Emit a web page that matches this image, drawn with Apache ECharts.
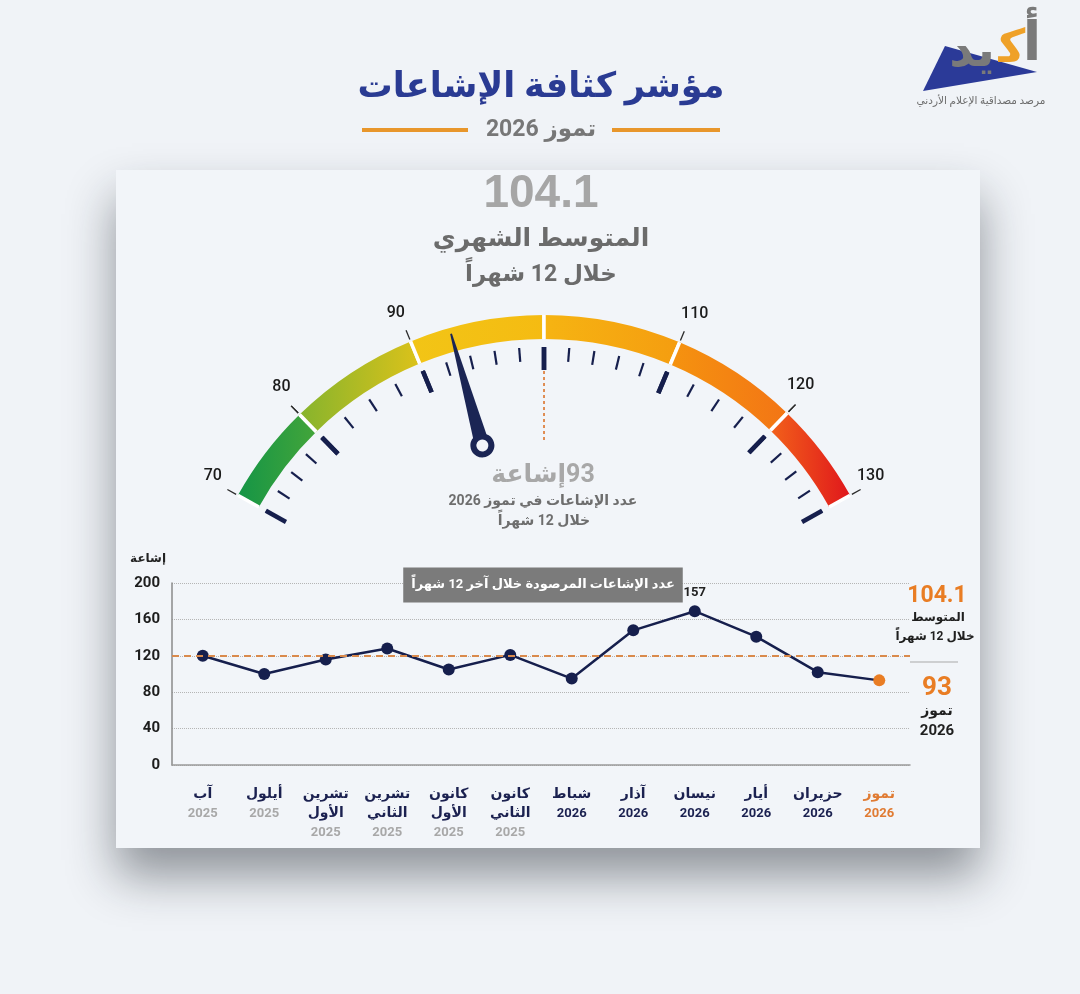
<!DOCTYPE html>
<html><head><meta charset="utf-8">
<script src="https://cdn.jsdelivr.net/npm/echarts@6/dist/echarts.min.js"></script>
<style>html,body{margin:0;padding:0;background:#f0f3f7;}#c{width:1080px;height:994px;direction:rtl;}</style>
</head><body><div id="c"></div>
<script>
// ---------- data ----------
const months = ['آب','أيلول','تشرين\nالأول','تشرين\nالثاني','كانون\nالأول','كانون\nالثاني','شباط','آذار','نيسان','أيار','حزيران','تموز'];
const years = ['2025','2025','2025','2025','2025','2025','2026','2026','2026','2026','2026','2026'];
const rumorCounts = [120,100,116,128,105,121,95,148,169,141,102,93];
const pointLabels = ['','','','','','','','','157','','',''];
const monthlyAverage = '104.1';
const currentCount = 93;
const currentMonthName = 'تموز';
const currentYear = '2026';
const gaugeStops = [70,80,90,100,110,120,130];
const gaugeLabelValues = [70,80,90,110,120,130];
const yMin = 0, yMax = 200, yInterval = 40;

// ---------- style / layout ----------
const AR = "Roboto, 'DejaVu Sans', sans-serif";
const NAVY = '#161f4d';
const ORANGE = '#e97d24';
const RLM = '\u200F';
const GC = [544, 665], GR = 350, ARC_W = 24;
const stopAngles = [151, 134.3, 112.4, 90, 67.2, 46, 29];
const minorSplits = [4,4,5,5,4,4];
const segColors = [['#159546','#43a53a'],['#86b42d','#dcc21a'],['#f2c516','#f5bb12'],['#f6b412','#f59d10'],['#f5930f','#f37515'],['#f2611a','#e0171c']];

function seg(i, extra) {
  return Object.assign({
    type:'gauge', center:GC, radius:GR, min:gaugeStops[i], max:gaugeStops[i+1],
    startAngle:stopAngles[i], endAngle:stopAngles[i+1], splitNumber:1, silent:true, animation:false,
    pointer:{show:false}, anchor:{show:false}, title:{show:false}, detail:{show:false}, progress:{show:false},
    axisLine:{show:false, lineStyle:{width:0}}, splitLine:{show:false}, axisTick:{show:false}, axisLabel:{show:false},
    data:[{value:gaugeStops[i]}]
  }, extra);
}

const series = [];
// coloured arc segments with white separators
for (let i = 0; i < 6; i++) {
  series.push(seg(i, {
    axisLine:{show:true, lineStyle:{width:ARC_W, color:[[1,{type:'linear',x:0,y:0,x2:1,y2:0,colorStops:[{offset:0,color:segColors[i][0]},{offset:1,color:segColors[i][1]}]}]]}},
    splitLine:{show:true, distance:-ARC_W, length:ARC_W, lineStyle:{color:'#ffffff', width:3.5}}
  }));
}
// dashed line at 100
series.push({
  type:'gauge', center:GC, radius:294, min:0, max:1, startAngle:stopAngles[3], endAngle:stopAngles[3]-0.01,
  splitNumber:1, silent:true, animation:false, pointer:{show:false}, anchor:{show:false}, title:{show:false}, detail:{show:false},
  axisLine:{show:false, lineStyle:{width:0}}, axisTick:{show:false}, axisLabel:{show:false},
  splitLine:{show:true, distance:0, length:70, lineStyle:{color:'#df8a4e', width:1.6, type:[3,3]}},
  data:[{value:0}]
});
// ticks
for (let i = 0; i < 6; i++) {
  series.push(seg(i, {
    radius:318,
    splitLine:{show:true, distance:0, length:23, lineStyle:{color:NAVY, width:4.5}},
    axisTick:{show:true, splitNumber:minorSplits[i], distance:0, length:14, lineStyle:{color:NAVY, width:2.2}}
  }));
}
// leaders + labels
const leaderSegs = [0,1,4,5];
const labelOwner = {};
leaderSegs.forEach(i => {
  [gaugeStops[i], gaugeStops[i+1]].forEach(v => {
    if (gaugeLabelValues.includes(v) && !(v in labelOwner)) labelOwner[v] = i;
  });
});
leaderSegs.forEach(i => {
  series.push(seg(i, {
    radius:362,
    splitLine:{show:true, distance:0, length:10, lineStyle:{color:'#2a2a2a', width:1.3}},
    axisLabel:{show:true, distance:-37, color:'#1b1b1b', fontSize:16, fontFamily:AR, fontWeight:500,
      formatter: v => (labelOwner[v] === i ? String(v) : '')}
  }));
});
// needle + pivot
series.push(seg(2, {
  z:5, data:[{value:currentCount}],
  pointer:{show:true, icon:'path://M4.4,0 L5.6,0 L10,100 L0,100 Z', length:116, width:15, offsetCenter:[0,-228], itemStyle:{color:'#1b2554'}}
}));
series.push(seg(2, {
  z:6, data:[{value:currentCount}],
  pointer:{show:true, icon:'circle', length:18, width:18, offsetCenter:[0,-219], itemStyle:{color:'#f3f5f9', borderColor:'#1b2554', borderWidth:6}}
}));

// line chart
const lastIdx = rumorCounts.length - 1;
series.push({
  type:'line', xAxisIndex:0, yAxisIndex:0, z:3, animation:false,
  data: rumorCounts.map((v,i) => i === lastIdx ? {value:v, itemStyle:{color:ORANGE}} : v),
  symbol:'circle', symbolSize:12,
  lineStyle:{color:NAVY, width:2.5}, itemStyle:{color:NAVY},
  label:{show:true, position:'top', distance:6, formatter:p => pointLabels[p.dataIndex], fontSize:13, fontWeight:'bold', color:'#222', fontFamily:AR},
  markLine:{silent:true, symbol:'none', label:{show:false}, lineStyle:{color:'#d98a4c', type:[7,5], width:2}, data:[{type:'average'}]}
});

function txt(x, y, text, size, color, weight, extra) {
  const el = {type:'text', x:x, y:y, silent:true, style:{text:text, fontSize:size, fill:color, fontWeight:weight||'bold', fontFamily:AR, align:'center', verticalAlign:'middle'}};
  if (extra) { if (extra.style) Object.assign(el.style, extra.style); if (extra.z !== undefined) el.z = extra.z; }
  return el;
}

const captionText = 'عدد الإشاعات المرصودة خلال آخر 12 شهراً';
const graphics = [
  {type:'rect', shape:{x:116, y:170, width:864, height:678}, style:{fill:'#f2f5f9', shadowBlur:45, shadowOffsetY:28, shadowColor:'rgba(25,30,40,0.45)'}, silent:true, z:-10},
  // logo
  {type:'polygon', shape:{points:[[945,46],[923,91],[1037,72]]}, style:{fill:'#2b3a98'}, silent:true},
  txt(1032, 46, 'أ', 54, '#7a7a7a', 'bold'),
  txt(1012, 50, 'ﻛ', 46, '#efa128', 'bold'),
  txt(972, 54, 'يد', 48, '#7a7a7a', 'bold'),
  txt(981, 101, 'مرصد مصداقية الإعلام الأردني', 10.5, '#6d6d6d', 'normal'),
  // title
  txt(541, 88, 'مؤشر كثافة الإشاعات', 35, '#2a3b93', 'bold'),
  txt(541, 130, currentMonthName + ' ' + currentYear, 23, '#777777', 'bold'),
  {type:'line', shape:{x1:362, y1:130, x2:468, y2:130}, style:{stroke:'#e8962b', lineWidth:4}, silent:true},
  {type:'line', shape:{x1:612, y1:130, x2:720, y2:130}, style:{stroke:'#e8962b', lineWidth:4}, silent:true},
  // gauge header
  txt(541, 194, monthlyAverage, 46, '#a6a6a6', 'bold', {style:{fontFamily:"'Liberation Sans', Arial, sans-serif"}}),
  txt(541, 240, 'المتوسط الشهري', 25, '#6b6b6b', 'bold'),
  txt(541, 275, 'خلال 12 شهراً', 23, '#6b6b6b', 'bold'),
  // gauge centre text
  txt(543, 476, RLM + currentCount + 'إشاعة', 25, '#a8a8a8', 'bold'),
  txt(543, 501, 'عدد الإشاعات في ' + currentMonthName + ' ' + currentYear, 14, '#6e6e6e', 'bold'),
  txt(544, 521, 'خلال 12 شهراً', 14, '#6e6e6e', 'bold'),
  // side panel
  txt(937, 596, monthlyAverage, 23, ORANGE, 'bold'),
  txt(938, 618, 'المتوسط', 12, '#1f1f1f', 'bold'),
  txt(935, 637, 'خلال 12 شهراً', 12, '#1f1f1f', 'bold'),
  {type:'line', shape:{x1:910, y1:662, x2:958, y2:662}, style:{stroke:'#a9a9a9', lineWidth:1}, silent:true},
  txt(937, 688, String(currentCount), 26, ORANGE, 'bold'),
  txt(937, 711, currentMonthName, 14, '#1f1f1f', 'bold'),
  txt(937, 731, currentYear, 15, '#1f1f1f', 'bold'),
  // grey caption box
  txt(543, 585, captionText, 13, '#ffffff', 'bold', {z:100, style:{backgroundColor:'#7b7b7b', padding:[11,8,11,8]}})
];

const chart = echarts.init(document.getElementById('c'), null, {renderer:'canvas'});
chart.setOption({
  backgroundColor:'#f0f3f7',
  animation:false,
  grid:{left:172, right:170, top:583, bottom:229, containLabel:false},
  xAxis:{type:'category', data:months, boundaryGap:true,
    axisLine:{show:true, lineStyle:{color:'#9a9a9a', width:1.5}}, axisTick:{show:false}, splitLine:{show:false},
    axisLabel:{interval:0, margin:20, formatter:(val, idx) => {
      const last = idx === lastIdx;
      const mStyle = last ? 'mo' : 'm';
      const yStyle = last ? 'yo' : (years[idx] === currentYear ? 'yn' : 'y');
      return months[idx].split('\n').map(s => '{' + mStyle + '|' + s + '}').join('\n') + '\n{' + yStyle + '|' + years[idx] + '}';
    }, rich:{
      m:{fontSize:14, fontWeight:'bold', color:'#1b2150', lineHeight:19, fontFamily:AR},
      mo:{fontSize:14, fontWeight:'bold', color:'#e07b33', lineHeight:19, fontFamily:AR},
      y:{fontSize:13, fontWeight:'bold', color:'#a8a8a8', lineHeight:19, fontFamily:AR},
      yn:{fontSize:13, fontWeight:'bold', color:'#1b2150', lineHeight:19, fontFamily:AR},
      yo:{fontSize:13, fontWeight:'bold', color:'#e07b33', lineHeight:19, fontFamily:AR}
    }}},
  yAxis:{type:'value', min:yMin, max:yMax, interval:yInterval, name:'إشاعة', nameLocation:'end', nameGap:18,
    nameTextStyle:{align:'right', fontSize:12, fontWeight:'bold', color:'#222', fontFamily:AR, padding:[0,6,0,0]},
    axisLine:{show:true, lineStyle:{color:'#8a8a8a', width:1.5}}, axisTick:{show:false},
    axisLabel:{fontSize:15, fontWeight:'bold', color:'#1d1d1d', margin:12, fontFamily:AR},
    splitLine:{show:true, lineStyle:{type:'dotted', color:'#b5b5b5', width:1}}},
  graphic:graphics,
  series:series
});
</script></body></html>
